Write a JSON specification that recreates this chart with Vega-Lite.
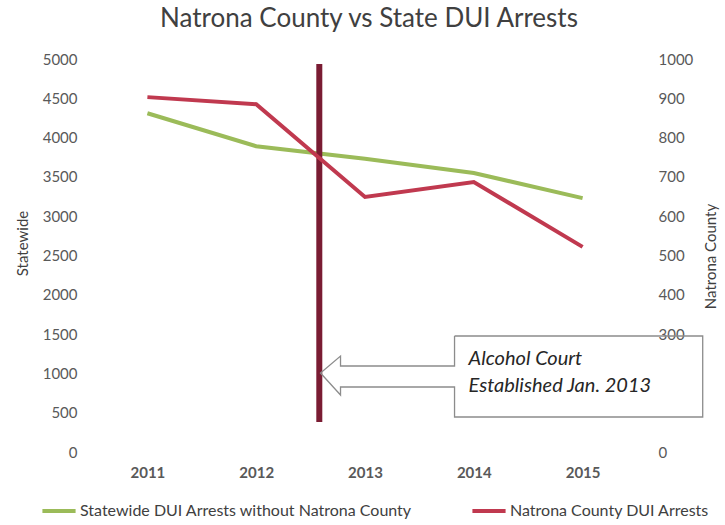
{
  "$schema": "https://vega.github.io/schema/vega-lite/v6.json",
  "width": 544,
  "height": 393,
  "autosize": {"type": "none"},
  "padding": {"left": 93, "top": 59, "right": 88, "bottom": 73},
  "background": "white",
  "config": {"view": {"stroke": null}, "font": "Lato"},
  "title": {"text": "Natrona County vs State DUI Arrests", "fontSize": 26, "font": "Lato", "fontWeight": "normal", "color": "#404040", "offset": 20, "dx": 4},
  "datasets": {
    "arrests": [
      {"year": 2011, "series": "Statewide DUI Arrests without Natrona County", "value": 4310},
      {"year": 2012, "series": "Statewide DUI Arrests without Natrona County", "value": 3890},
      {"year": 2013, "series": "Statewide DUI Arrests without Natrona County", "value": 3730},
      {"year": 2014, "series": "Statewide DUI Arrests without Natrona County", "value": 3550},
      {"year": 2015, "series": "Statewide DUI Arrests without Natrona County", "value": 3230},
      {"year": 2011, "series": "Natrona County DUI Arrests", "value": 903},
      {"year": 2012, "series": "Natrona County DUI Arrests", "value": 885},
      {"year": 2013, "series": "Natrona County DUI Arrests", "value": 649},
      {"year": 2014, "series": "Natrona County DUI Arrests", "value": 687},
      {"year": 2015, "series": "Natrona County DUI Arrests", "value": 522}
    ],
    "court": [{"year": 2012.58, "value": 4936, "bottom": 382}],
    "callout": [
      {"i": 1, "year": 2013.823, "value": 1476},
      {"i": 2, "year": 2016.104, "value": 1476},
      {"i": 3, "year": 2016.104, "value": 445},
      {"i": 4, "year": 2013.823, "value": 445},
      {"i": 5, "year": 2013.823, "value": 827},
      {"i": 6, "year": 2012.775, "value": 827},
      {"i": 7, "year": 2012.775, "value": 725},
      {"i": 8, "year": 2012.591, "value": 1005},
      {"i": 9, "year": 2012.775, "value": 1221},
      {"i": 10, "year": 2012.775, "value": 1094},
      {"i": 11, "year": 2013.823, "value": 1094},
      {"i": 12, "year": 2013.823, "value": 1476}
    ],
    "note": [
      {"text": "Alcohol Court", "year": 2013.952, "value": 1107},
      {"text": "Established Jan. 2013", "year": 2013.952, "value": 763}
    ]
  },
  "layer": [
    {
      "encoding": {
        "x": {"field": "year", "type": "quantitative", "scale": {"domain": [2010.5, 2015.5], "nice": false, "zero": false},
              "axis": {"values": [2011, 2012, 2013, 2014, 2015], "format": "d", "title": null, "domain": false, "ticks": false, "grid": false, "labelFontSize": 15, "labelFontWeight": "bold", "labelColor": "#595959", "labelPadding": 13}},
        "y": {"field": "value", "type": "quantitative", "scale": {"domain": [0, 5000], "nice": false},
              "axis": {"orient": "left", "title": "Statewide", "values": [0, 500, 1000, 1500, 2000, 2500, 3000, 3500, 4000, 4500, 5000], "format": "d", "domain": false, "ticks": false, "grid": false, "labelFontSize": 15, "labelColor": "#595959", "labelPadding": 16, "titleFontSize": 15, "titleFontWeight": "normal", "titleColor": "#404040", "titleAngle": -90, "titleX": -71, "titleY": 184, "titleAlign": "center", "titleBaseline": "middle"}}
      },
      "layer": [
        {
          "data": {"name": "arrests"},
          "transform": [{"filter": "datum.series == 'Statewide DUI Arrests without Natrona County'"}],
          "mark": {"type": "line", "strokeWidth": 4},
          "encoding": {
            "color": {"field": "series", "type": "nominal",
                      "scale": {"domain": ["Statewide DUI Arrests without Natrona County", "Natrona County DUI Arrests"], "range": ["#9BBB59", "#C0394F"]},
                      "legend": {"orient": "none", "legendX": -53, "legendY": 433, "direction": "horizontal", "title": null, "symbolType": "stroke", "symbolSize": 1100, "symbolStrokeWidth": 4, "labelFontSize": 16, "labelColor": "#404040", "labelLimit": 0, "columnPadding": 52, "labelOffset": 2}}
          }
        },
        {
          "data": {"name": "court"},
          "mark": {"type": "rule", "strokeWidth": 6, "color": "#7A1C33"},
          "encoding": {
            "y2": {"field": "bottom"}
          }
        },
        {
          "data": {"name": "callout"},
          "mark": {"type": "line", "strokeWidth": 1.3, "color": "#8C8C8C"},
          "encoding": {
            "order": {"field": "i", "type": "quantitative"}
          }
        },
        {
          "data": {"name": "note"},
          "mark": {"type": "text", "align": "left", "baseline": "alphabetic", "fontStyle": "italic", "fontSize": 20, "font": "Lato", "color": "#262626"},
          "encoding": {
            "text": {"field": "text"}
          }
        }
      ]
    },
    {
      "data": {"name": "arrests"},
      "transform": [{"filter": "datum.series == 'Natrona County DUI Arrests'"}],
      "mark": {"type": "line", "strokeWidth": 4},
      "encoding": {
        "x": {"field": "year", "type": "quantitative"},
        "y": {"field": "value", "type": "quantitative", "scale": {"domain": [0, 1000], "nice": false},
              "axis": {"orient": "right", "title": "Natrona County", "values": [0, 300, 400, 500, 600, 700, 800, 900, 1000], "format": "d", "domain": false, "ticks": false, "grid": false, "labelFontSize": 15, "labelColor": "#595959", "labelPadding": 21, "titleFontSize": 15, "titleFontWeight": "normal", "titleColor": "#404040", "titleAngle": -90, "titleX": 73, "titleY": 197, "titleAlign": "center", "titleBaseline": "middle"}},
        "color": {"field": "series", "type": "nominal"}
      }
    }
  ],
  "resolve": {"scale": {"y": "independent"}}
}
